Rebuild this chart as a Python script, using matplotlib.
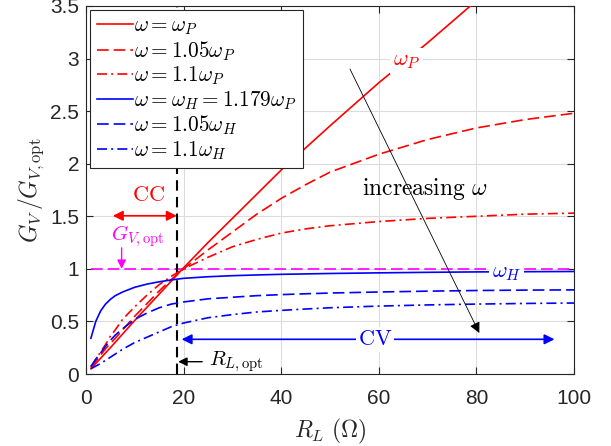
import numpy as np
import matplotlib
matplotlib.use("Agg")
from matplotlib import pyplot as plt

plt.rcParams["mathtext.fontset"] = "cm"
plt.rcParams["font.family"] = ["Liberation Sans", "DejaVu Sans"]

# values (R_L in ohm, normalised gain)
rl_red = [1, 5, 10, 15, 20, 25, 30, 35, 40, 45, 50, 60, 70, 80]
g_wp = [0.05, 0.25, 0.51, 0.76, 1.01, 1.25, 1.48, 1.71, 1.94, 2.15, 2.36, 2.77, 3.15, 3.55]

rl = [1, 2, 3, 4, 5, 6, 7.5, 10, 12.5, 15, 17.5, 20, 25, 30, 35, 40, 45, 50, 60, 70, 80, 90, 100]
g_105wp = [0.06, 0.12, 0.18, 0.24, 0.29, 0.34, 0.42, 0.55, 0.67, 0.79, 0.90, 1.00, 1.18,
           1.35, 1.52, 1.67, 1.80, 1.92, 2.09, 2.23, 2.34, 2.42, 2.48]
g_11wp = [0.07, 0.14, 0.21, 0.28, 0.36, 0.42, 0.52, 0.64, 0.75, 0.85, 0.93, 1.00, 1.11,
          1.21, 1.28, 1.34, 1.38, 1.41, 1.45, 1.48, 1.50, 1.52, 1.53]
g_wh = [0.34, 0.50, 0.60, 0.665, 0.71, 0.745, 0.78, 0.825, 0.855, 0.877, 0.895, 0.91, 0.925,
        0.935, 0.942, 0.948, 0.952, 0.956, 0.962, 0.967, 0.971, 0.973, 0.975]
g_105wh = [0.07, 0.14, 0.20, 0.265, 0.32, 0.37, 0.43, 0.52, 0.58, 0.63, 0.665, 0.685, 0.715,
           0.73, 0.745, 0.755, 0.763, 0.77, 0.78, 0.788, 0.794, 0.798, 0.80]
g_11wh = [0.05, 0.075, 0.10, 0.13, 0.16, 0.19, 0.235, 0.30, 0.35, 0.40, 0.45, 0.485, 0.535,
          0.565, 0.59, 0.605, 0.618, 0.63, 0.646, 0.657, 0.665, 0.671, 0.675]

rl_opt = 18.6
g_opt = 1.0

xticks = [0, 20, 40, 60, 80, 100]
yticks = [0, 0.5, 1, 1.5, 2, 2.5, 3, 3.5]

labels = [r"$\omega=\omega_P$", r"$\omega=1.05\omega_P$", r"$\omega=1.1\omega_P$",
          r"$\omega=\omega_H=1.179\omega_P$", r"$\omega=1.05\omega_H$", r"$\omega=1.1\omega_H$"]

dash = (7, 3)
dashdot = (6, 2.5, 1.2, 2.5)

fig = plt.figure(figsize=(6.11, 4.46), dpi=100)
ax = fig.add_axes([86 / 611, 1 - 374 / 446, 488 / 611, 368 / 446])

lw = 1.2
ax.plot(rl, [g_opt] * len(rl), color="magenta", lw=lw, dashes=dash, zorder=2)
ax.axvline(rl_opt, color="black", lw=1.5, dashes=(5, 3), zorder=2)

ax.plot(rl_red, g_wp, color="red", lw=lw, label=labels[0], zorder=3)
ax.plot(rl, g_105wp, color="red", lw=lw, dashes=dash, label=labels[1], zorder=3)
ax.plot(rl, g_11wp, color="red", lw=lw, dashes=dashdot, label=labels[2], zorder=3)
ax.plot(rl, g_wh, color="blue", lw=lw, label=labels[3], zorder=3)
ax.plot(rl, g_105wh, color="blue", lw=lw, dashes=dash, label=labels[4], zorder=3)
ax.plot(rl, g_11wh, color="blue", lw=lw, dashes=dashdot, label=labels[5], zorder=3)

ax.set_xlim(0, 100)
ax.set_ylim(0, 3.5)
ax.set_xticks(xticks)
ax.set_yticks(yticks)
ax.set_xticklabels([f"{v:g}" for v in xticks])
ax.set_yticklabels([f"{v:g}" for v in yticks])
ax.grid(True, color="#dcdcdc", lw=0.8)
ax.set_axisbelow(True)
ax.tick_params(direction="in", top=True, right=True, length=5, labelsize=15,
               colors="#262626", width=0.8)
ax.tick_params(axis="x", pad=11)
ax.tick_params(axis="y", pad=5)
for s in ax.spines.values():
    s.set_color("#262626")
    s.set_linewidth(0.8)

ax.set_xlabel(r"$R_L\ (\Omega)$", fontsize=17, color="#262626", labelpad=6)
ax.set_ylabel(r"$G_V\,/G_{V,\mathrm{opt}}$", fontsize=17, color="#262626", labelpad=3)

leg = ax.legend(loc="upper left", fontsize=15.3, handlelength=1.7, handletextpad=0.05,
                labelspacing=0.09, borderpad=0.3, borderaxespad=0.2,
                fancybox=False, framealpha=1, edgecolor="#262626")
leg.get_frame().set_linewidth(0.8)
leg.set_zorder(5)

# CC region arrow
ax.annotate("", xy=(5.5, 1.505), xytext=(18.6, 1.505),
            arrowprops=dict(arrowstyle="<|-|>", color="red", lw=1.2, mutation_scale=15,
                            shrinkA=0, shrinkB=0))
ax.text(12.7, 1.70, r"$\mathrm{CC}$", color="red", fontsize=16, ha="center", va="center")

# G_V,opt marker
ax.annotate("", xy=(7.3, 1.0), xytext=(7.3, 1.2),
            arrowprops=dict(arrowstyle="-|>", color="magenta", lw=1.0, mutation_scale=13,
                            shrinkA=0, shrinkB=0))
ax.text(10.6, 1.31, r"$G_{V,\mathrm{opt}}$", color="magenta", fontsize=15,
        ha="center", va="center")

# R_L,opt marker
ax.annotate("", xy=(18.9, 0.117), xytext=(23.8, 0.117),
            arrowprops=dict(arrowstyle="-|>", color="black", lw=1.0, mutation_scale=13,
                            shrinkA=0, shrinkB=0))
ax.text(25.3, 0.117, r"$R_{L,\mathrm{opt}}$", color="black", fontsize=15,
        ha="left", va="center")

# CV region arrow
ax.annotate("", xy=(19.6, 0.33), xytext=(96.0, 0.33),
            arrowprops=dict(arrowstyle="<|-|>", color="blue", lw=1.2, mutation_scale=15,
                            shrinkA=0, shrinkB=0))
ax.text(59.2, 0.33, r"$\mathrm{CV}$", color="blue", fontsize=16, ha="center", va="center",
        bbox=dict(fc="white", ec="none", pad=1.5))

# increasing omega arrow
ax.annotate("", xy=(80.6, 0.39), xytext=(54.1, 2.90),
            arrowprops=dict(arrowstyle="-|>", color="black", lw=0.6, mutation_scale=16,
                            shrinkA=0, shrinkB=0), zorder=4)
ax.text(69.5, 1.76, r"$\mathrm{increasing}\ \omega$", color="black", fontsize=17,
        ha="center", va="center")

ax.text(65.7, 2.98, r"$\omega_P$", color="red", fontsize=16, ha="center", va="center",
        bbox=dict(fc="white", ec="none", pad=2), zorder=4)
ax.text(86.2, 0.965, r"$\omega_H$", color="blue", fontsize=16, ha="center", va="center",
        bbox=dict(fc="white", ec="none", pad=2), zorder=4)

fig.savefig("out.png", dpi=100)
